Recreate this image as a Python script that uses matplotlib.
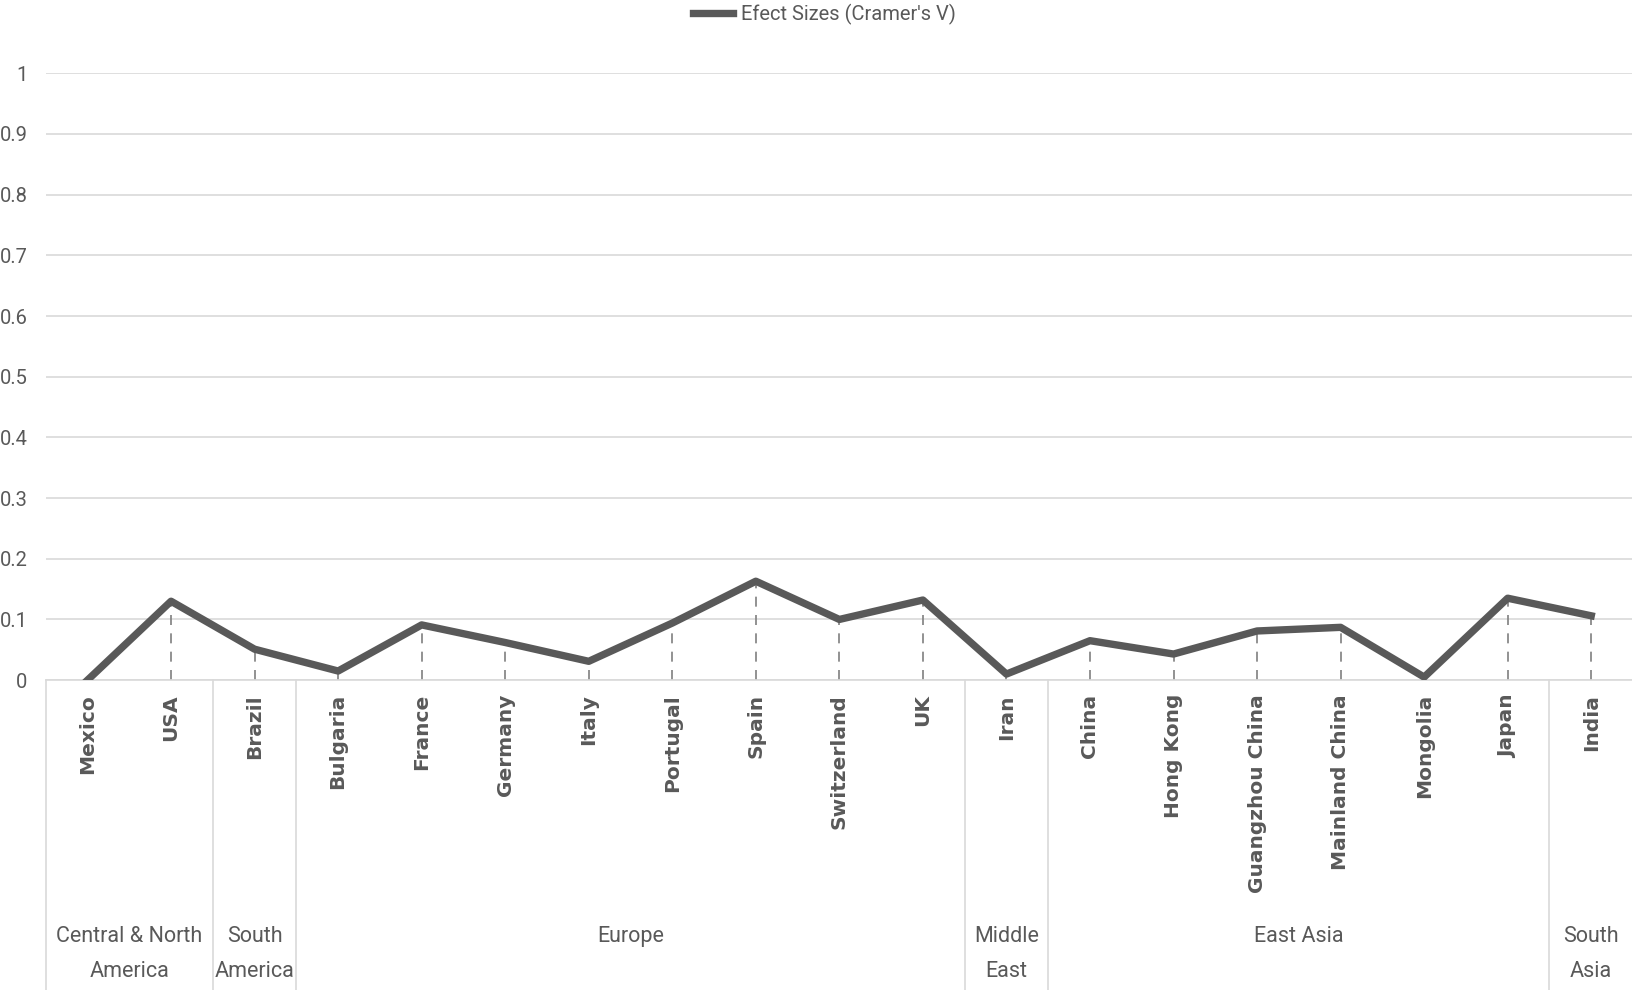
import numpy as np
from matplotlib import pyplot as plt
from matplotlib.transforms import blended_transform_factory

# Data
countries = ["Mexico", "USA", "Brazil", "Bulgaria", "France", "Germany", "Italy",
             "Portugal", "Spain", "Switzerland", "UK", "Iran", "China", "Hong Kong",
             "Guangzhou China", "Mainland China", "Mongolia", "Japan", "India"]
cramers_v = [0.0, 0.13, 0.051, 0.015, 0.091, 0.062, 0.031, 0.094, 0.163, 0.10,
             0.132, 0.01, 0.065, 0.043, 0.081, 0.087, 0.005, 0.135, 0.106]
regions = ["Central & North\nAmerica", "South\nAmerica", "Europe", "Middle\nEast",
           "East Asia", "South\nAsia"]
region_sizes = [2, 1, 8, 1, 6, 1]
y_ticks = [0, 0.1, 0.2, 0.3, 0.4, 0.5, 0.6, 0.7, 0.8, 0.9, 1]
y_tick_labels = ["0", "0.1", "0.2", "0.3", "0.4", "0.5", "0.6", "0.7", "0.8", "0.9", "1"]

text_col = "#595959"
grid_col = "#d9d9d9"
narrow = ["Roboto", "DejaVu Sans"]

fig = plt.figure(figsize=(16.33, 9.90), dpi=100)
ax = fig.add_axes([0.028, 0.313, 0.972, 0.613])

x = np.arange(len(countries))
ax.vlines(x, 0, cramers_v, colors="#7f7f7f", linestyles=(0, (6, 5)), linewidth=1.2, zorder=2)
line, = ax.plot(x, cramers_v, color="#595959", linewidth=5.3, solid_joinstyle="round",
                zorder=3, label="Efect Sizes (Cramer's V)")

ax.set_xlim(-0.5, len(countries) - 0.5)
ax.set_ylim(0, 1)
ax.set_yticks(y_ticks)
ax.set_yticklabels(y_tick_labels, family=narrow, fontsize=14.5, color=text_col)
ax.yaxis.grid(True, color=grid_col, linewidth=1.2)
ax.set_axisbelow(True)
ax.set_xticks(x)
ax.set_xticklabels(countries, rotation=90, fontsize=14.5, color=text_col,
                   fontweight="semibold", va="top")
ax.tick_params(axis="x", length=0, pad=10)
ax.tick_params(axis="y", length=0, pad=13)
for s in ["top", "right", "left"]:
    ax.spines[s].set_visible(False)
ax.spines["bottom"].set_color(grid_col)
ax.spines["bottom"].set_linewidth(1.2)

# region boxes under the axis
trans = blended_transform_factory(ax.transData, fig.transFigure)
edges = np.concatenate([[0], np.cumsum(region_sizes)]) - 0.5
y_axis0 = 0.313
for e in edges:
    ax.plot([e, e], [0, y_axis0], transform=trans, color=grid_col, linewidth=1.2, clip_on=False)
for name, a, b in zip(regions, edges[:-1], edges[1:]):
    ax.text((a + b) / 2, 1 - 926 / 990, name, transform=trans, ha="center", va="top",
            family=narrow, fontsize=15.5, color=text_col, linespacing=1.85)

leg = fig.legend(handles=[line], loc="center", bbox_to_anchor=(0.505, 1 - 14 / 990), frameon=False,
                 prop={"family": narrow, "size": 14.5}, handlelength=2.0, handletextpad=0.4,
                 borderaxespad=0, borderpad=0)
for t in leg.get_texts():
    t.set_color(text_col)

fig.savefig("out.png", dpi=100)
